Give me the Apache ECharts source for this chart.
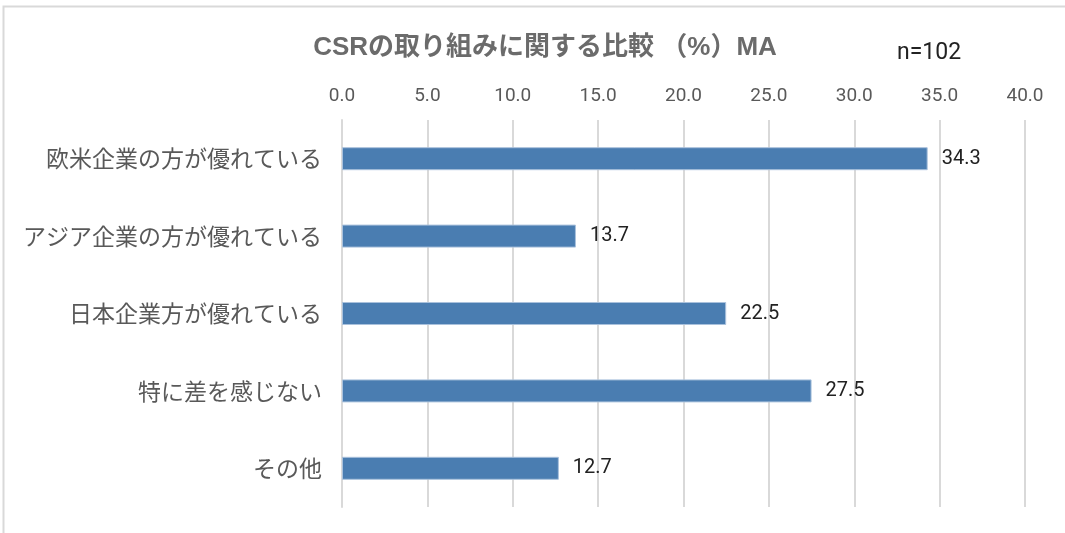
<!DOCTYPE html>
<html>
<head>
<meta charset="utf-8">
<script src="https://cdn.jsdelivr.net/npm/echarts@6/dist/echarts.min.js"></script>
<style>
  html, body { margin: 0; padding: 0; background: #fff; }
  #chart { width: 1065px; height: 533px; }
</style>
</head>
<body>
<div id="chart"></div>
<script>
// Survey responses (multiple answer), n=102
const categories = [
  '欧米企業の方が優れている',
  'アジア企業の方が優れている',
  '日本企業方が優れている',
  '特に差を感じない',
  'その他'
];
const values = [34.3, 13.7, 22.5, 27.5, 12.7];
const axisTicks = [0, 5, 10, 15, 20, 25, 30, 35, 40];

const jpFont = '"Noto Sans CJK JP", "Noto Sans", sans-serif';
const titleFont = '"Liberation Sans", "Noto Sans CJK JP", sans-serif';
const numFont = 'Roboto, "Noto Sans", sans-serif';

const chart = echarts.init(document.getElementById('chart'));
chart.setOption({
  animation: false,
  backgroundColor: '#ffffff',
  title: {
    text: 'CSRの取り組みに関する比較 （%）MA',
    left: 540,
    top: 30,
    textAlign: 'center',
    textStyle: { fontFamily: titleFont, fontSize: 26, fontWeight: 'bold', color: '#6b6b6b' }
  },
  graphic: [
    {
      type: 'rect',
      shape: { x: 3.5, y: 6.5, width: 1080, height: 540 },
      style: { fill: 'none', stroke: '#d9d9d9', lineWidth: 2 },
      silent: true
    },
    {
      type: 'text',
      left: 897,
      top: 42,
      style: { text: 'n=102', fontFamily: numFont, fontSize: 23, fill: '#222222' }
    }
  ],
  grid: { left: 342, right: 40, top: 120, bottom: 26, containLabel: false },
  xAxis: {
    type: 'value',
    position: 'top',
    min: axisTicks[0],
    max: axisTicks[axisTicks.length - 1],
    interval: 5,
    axisLine: { show: false },
    axisTick: { show: false },
    axisLabel: {
      margin: 14,
      fontFamily: numFont,
      fontSize: 19,
      color: '#595959',
      formatter: v => v.toFixed(1)
    },
    splitLine: { show: true, lineStyle: { color: '#d9d9d9', width: 2 } }
  },
  yAxis: {
    type: 'category',
    inverse: true,
    data: categories,
    axisLine: { show: true, lineStyle: { color: '#d9d9d9', width: 2 } },
    axisTick: { show: false },
    axisLabel: {
      margin: 20,
      fontFamily: jpFont,
      fontSize: 23,
      color: '#595959'
    }
  },
  series: [{
    type: 'bar',
    data: values,
    barWidth: 23,
    itemStyle: { color: '#4a7db1', borderColor: '#a9c1dc', borderWidth: 1 },
    label: {
      show: true,
      position: 'right',
      distance: 14,
      fontFamily: numFont,
      fontSize: 20,
      color: '#222222',
      formatter: p => p.value.toFixed(1)
    }
  }]
});
</script>
</body>
</html>
